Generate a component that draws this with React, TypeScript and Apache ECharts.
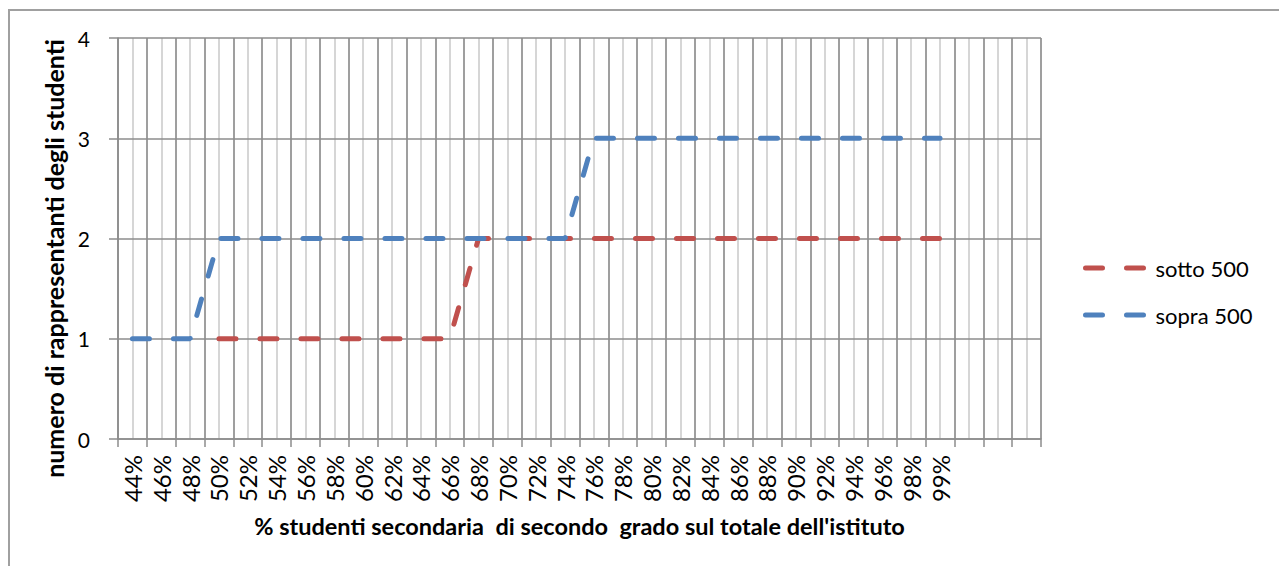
import React, { useEffect, useRef } from "react";
import * as echarts from "echarts";

const categories = [
  "44%", "46%", "48%", "50%", "52%", "54%", "56%", "58%", "60%", "62%",
  "64%", "66%", "68%", "70%", "72%", "74%", "76%", "78%", "80%", "82%",
  "84%", "86%", "88%", "90%", "92%", "94%", "96%", "98%", "99%", "", "", "",
];

const sotto500 = [
  null, null, null, 1, 1, 1, 1, 1, 1, 1,
  1, 1, 2, 2, 2, 2, 2, 2, 2, 2,
  2, 2, 2, 2, 2, 2, 2, 2, 2, null, null, null,
];

const sopra500 = [
  1, 1, 1, 2, 2, 2, 2, 2, 2, 2,
  2, 2, 2, 2, 2, 2, 3, 3, 3, 3,
  3, 3, 3, 3, 3, 3, 3, 3, 3, null, null, null,
];

const seriesNames = ["sotto 500", "sopra 500"];
const yTicks = { min: 0, max: 4, interval: 1 };
const xTitle = "% studenti secondaria  di secondo  grado sul totale dell'istituto";
const yTitle = "numero di rappresentanti degli studenti";

const FONT = "Lato";
const DARK = "#8c8c8c";
const LIGHT = "#c8c8c8";
const DASH = [17, 24];

export default function App() {
  const ref = useRef<HTMLDivElement>(null);
  useEffect(() => {
    if (!ref.current) return;
    const chart = echarts.init(ref.current, null, { renderer: "svg" });
    const n = categories.length;
    chart.setOption({
      animation: false,
      textStyle: { fontFamily: FONT },
      grid: { left: 118, top: 38, right: 238, bottom: 127, containLabel: false },
      graphic: [
        {
          type: "rect",
          shape: { x: 9, y: 10, width: 1400, height: 700 },
          style: { fill: "none", stroke: "#a0a0a0", lineWidth: 2 },
          silent: true,
        },
      ],
      legend: {
        orient: "vertical",
        left: 1078,
        top: 252,
        itemWidth: 58,
        itemHeight: 14,
        itemGap: 25,
        data: seriesNames,
        textStyle: { fontFamily: FONT, fontSize: 22, color: "#000", padding: [0, 0, 0, 7] },
        lineStyle: { width: 5, type: DASH, cap: "round" },
        itemStyle: { opacity: 0, color: "rgba(0,0,0,0)", borderWidth: 0 },
      },
      xAxis: [
        {
          type: "value",
          position: "top",
          min: 0,
          max: n * 2,
          interval: 1,
          axisLine: { show: false },
          axisTick: { show: false },
          axisLabel: { show: false },
          splitLine: { show: true, lineStyle: { color: LIGHT, width: 1.5 } },
          z: 0,
        },
        {
          type: "category",
          position: "bottom",
          data: categories,
          boundaryGap: true,
          z: 1,
          axisLine: { show: true, lineStyle: { color: DARK, width: 1.5 } },
          axisTick: { show: true, length: 8, lineStyle: { color: DARK, width: 1.5 } },
          axisLabel: {
            rotate: 90,
            margin: 16,
            fontFamily: FONT,
            fontSize: 24,
            color: "#000",
            interval: 0,
          },
          splitLine: { show: true, interval: 0, lineStyle: { color: DARK, width: 1.5 } },
          name: xTitle,
          nameLocation: "middle",
          nameGap: 75,
          nameTextStyle: { fontFamily: FONT, fontSize: 23.5, fontWeight: "bold", color: "#000" },
        },
      ],
      yAxis: {
        type: "value",
        min: yTicks.min,
        max: yTicks.max,
        interval: yTicks.interval,
        z: 1,
        axisLine: { show: true, lineStyle: { color: DARK, width: 1.5 } },
        axisTick: { show: true, length: 9, lineStyle: { color: DARK, width: 1.5 } },
        axisLabel: { margin: 28, fontFamily: FONT, fontSize: 21, color: "#000" },
        splitLine: { show: true, lineStyle: { color: DARK, width: 1.5 } },
        name: yTitle,
        nameLocation: "middle",
        nameRotate: 90,
        nameGap: 46,
        nameTextStyle: {
          fontFamily: FONT,
          fontSize: 25,
          fontWeight: "bold",
          color: "#000",
          padding: [0, 40, 0, 0],
        },
      },
      series: [
        {
          name: seriesNames[0],
          type: "line",
          xAxisIndex: 1,
          data: sotto500,
          symbol: "none",
          connectNulls: false,
          lineStyle: { color: "#c0504d", width: 5, type: DASH, cap: "round" },
          itemStyle: { color: "#c0504d" },
        },
        {
          name: seriesNames[1],
          type: "line",
          xAxisIndex: 1,
          data: sopra500,
          symbol: "none",
          connectNulls: false,
          lineStyle: { color: "#4f81bd", width: 5, type: DASH, cap: "round" },
          itemStyle: { color: "#4f81bd" },
        },
      ],
    });
    return () => chart.dispose();
  }, []);
  return (
    <div
      ref={ref}
      style={{ position: "absolute", left: 0, top: 0, width: 1279, height: 566, background: "#fff" }}
    />
  );
}
